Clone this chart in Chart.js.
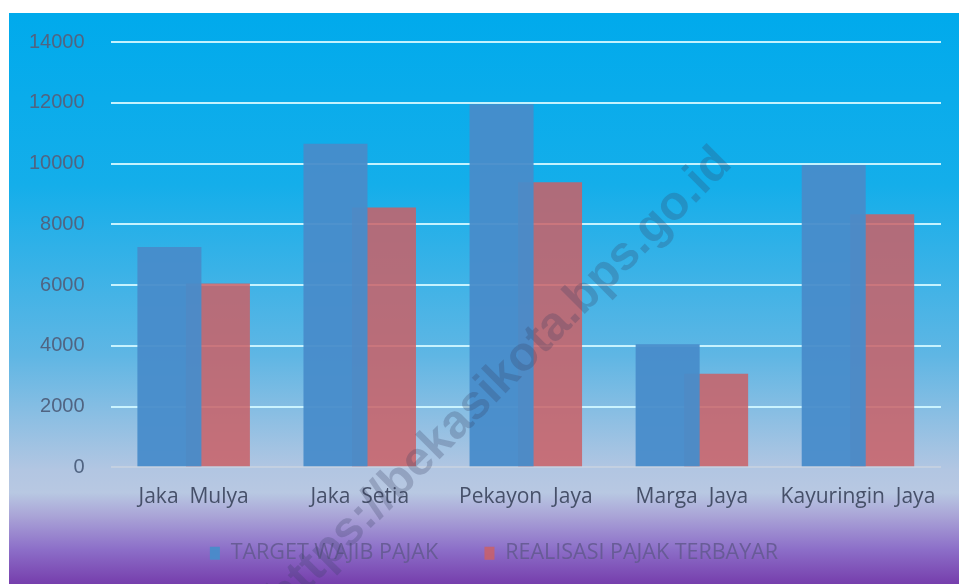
<!DOCTYPE html>
<html>
<head>
<meta charset="utf-8">
<script src="https://cdn.jsdelivr.net/npm/chart.js@4"></script>
<style>
  html, body { margin: 0; padding: 0; background: #fff; }
  #wrap { width: 959px; height: 584px; }
</style>
</head>
<body>
<div id="wrap"><canvas id="taxChart" width="959" height="584"></canvas></div>
<script>
const kelurahan = ['Jaka  Mulya', 'Jaka  Setia', 'Pekayon  Jaya', 'Marga  Jaya', 'Kayuringin  Jaya']
const targetWajibPajak = [7250, 10650, 11950, 4050, 9950]
const realisasiPajak = [6050, 8550, 9380, 3080, 8330]
const yTicks = [0, 2000, 4000, 6000, 8000, 10000, 12000, 14000]

// background with the blue-to-purple fade, inset by a white margin
const bgPlugin = {
  id: 'bg',
  beforeDraw(chart) {
    const c = chart.ctx
    c.save()
    c.fillStyle = '#ffffff'
    c.fillRect(0, 0, chart.width, chart.height)
    const g = c.createLinearGradient(0, 13, 0, chart.height)
    g.addColorStop(0, 'rgb(0,170,236)')
    g.addColorStop(0.3, 'rgb(20,174,234)')
    g.addColorStop(0.6, 'rgb(95,182,228)')
    g.addColorStop(0.8, 'rgb(178,198,226)')
    g.addColorStop(0.84, 'rgb(184,200,226)')
    g.addColorStop(0.88, 'rgb(170,165,215)')
    g.addColorStop(0.94, 'rgb(140,110,200)')
    g.addColorStop(1, 'rgb(118,62,172)')
    c.fillStyle = g
    c.fillRect(9, 13, chart.width - 9, chart.height - 13)
    c.restore()
  },
  // legend sits a bit right of the canvas centre in the original
  afterLayout(chart) {
    chart.legend.left += 22
    chart.legend.right += 22
  },
}

const watermark = {
  id: 'watermark',
  afterDraw(chart) {
    const c = chart.ctx
    c.save()
    c.translate(724, 156)
    c.rotate(-45 * Math.PI / 180)
    c.font = 'bold 48px "Liberation Sans", Arial, sans-serif'
    c.fillStyle = 'rgba(55,60,95,0.26)'
    c.textAlign = 'right'
    c.textBaseline = 'middle'
    c.fillText('https://bekasikota.bps.go.id', 0, 0)
    c.restore()
  },
}

const ctx = document.getElementById('taxChart').getContext('2d')
const myChart = new Chart(ctx, {
  type: 'bar',
  data: {
    labels: kelurahan,
    datasets: [
      {
        label: 'TARGET WAJIB PAJAK',
        data: targetWajibPajak,
        backgroundColor: 'rgba(72,140,202,0.95)',
        borderWidth: 0,
        categoryPercentage: 0.584,
        barPercentage: 1.32,
      },
      {
        label: 'REALISASI PAJAK TERBAYAR',
        data: realisasiPajak,
        backgroundColor: 'rgba(202,96,102,0.85)',
        borderWidth: 0,
        categoryPercentage: 0.584,
        barPercentage: 1.32,
      },
    ],
  },
  options: {
    responsive: false,
    animation: false,
    layout: { padding: { top: 42, left: 3, right: 18, bottom: 10 } },
    plugins: {
      legend: {
        position: 'bottom',
        labels: {
          boxWidth: 10,
          boxHeight: 13,
          padding: 24,
          color: 'rgba(100,90,145,0.9)',
          font: { family: '"Open Sans", sans-serif', size: 21.5 },
          generateLabels(chart) {
            const items = Chart.defaults.plugins.legend.labels.generateLabels(chart)
            items[0].text += '    '
            return items
          },
        },
      },
      tooltip: { enabled: false },
    },
    scales: {
      x: {
        grid: { display: false },
        border: { display: false },
        ticks: {
          color: 'rgb(70,80,105)',
          padding: 9,
          font: { family: '"Open Sans", sans-serif', size: 21 },
        },
      },
      y: {
        min: 0,
        max: 14000,
        afterBuildTicks(axis) {
          axis.ticks = yTicks.map((v) => ({ value: v }))
        },
        border: { display: false },
        grid: {
          drawTicks: false,
          lineWidth: 2,
          color: (c) => (c.tick && c.tick.value === 0 ? 'rgba(200,210,225,0.8)' : 'rgba(205,245,255,0.95)'),
        },
        ticks: {
          padding: 26,
          color: 'rgb(80,100,130)',
          font: { family: '"Liberation Sans", Arial, sans-serif', size: 20 },
          callback: (v) => String(v),
        },
      },
    },
  },
  plugins: [bgPlugin, watermark],
})
</script>
</body>
</html>
